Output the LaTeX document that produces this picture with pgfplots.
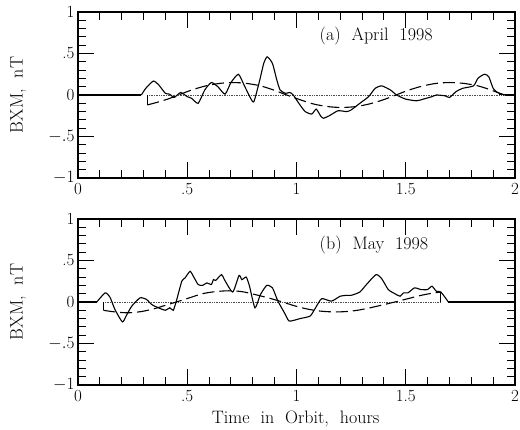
\documentclass[border=0pt]{standalone}
\usepackage{fontspec}
\usepackage{pgfplots}
\pgfplotsset{compat=1.18}

\pgfplotsset{
  orbitpanel/.style={
    scale only axis,
    width=437pt, height=166pt,
    xmin=0, xmax=2, ymin=-1, ymax=1,
    xtick={0,0.5,1,1.5,2},
    xticklabels={0,.5,1,1.5,2},
    ytick={-1,-0.5,0,0.5,1},
    yticklabels={$-1$,$-.5$,0,.5,1},
    minor x tick num=4,
    minor y tick num=4,
    tick align=inside,
    major tick length=16pt,
    minor tick length=8pt,
    every tick/.style={black, line width=1pt},
    axis line style={line width=1.2pt},
    tick label style={font=\fontsize{17}{20}\selectfont},
    xticklabel style={yshift=-2pt},
    ylabel={BXM,\ \ nT},
    every axis y label/.style={at={(axis description cs:-0.137,0.5)}, rotate=90,
      anchor=center, font=\fontsize{18}{21}\selectfont},
    clip=false,
  },
  datacurve/.style={black, line width=1.1pt, smooth, tension=0.35},
  modelcurve/.style={black, line width=1.1pt, dash pattern=on 12pt off 5pt},
  zeroline/.style={black!70, line width=0.7pt, densely dotted},
}

\begin{document}
\begin{tikzpicture}
% (a) April 1998
\begin{axis}[orbitpanel, at={(0,0)}, anchor=north west]
\addplot[zeroline] coordinates {(0.317,0) (1.95,0)};
\addplot[black, line width=1.1pt] coordinates {(0,0) (0.29,0)};
\addplot[datacurve] coordinates {
(0.29,0) (0.31,0.08) (0.345,0.168) (0.37,0.12) (0.40,0.02) (0.42,0.01)
(0.44,-0.03) (0.47,0.03) (0.50,-0.02) (0.52,-0.04) (0.55,-0.10) (0.58,0.06)
(0.61,0.15) (0.64,0.10) (0.673,0.01) (0.70,0.15) (0.734,0.25) (0.76,0.12)
(0.79,-0.04) (0.805,-0.08) (0.83,0.16) (0.85,0.38) (0.866,0.46) (0.89,0.38)
(0.91,0.18) (0.925,0.06) (0.95,0.02) (0.97,0.03) (0.985,0.0) (1.016,-0.12)
(1.04,-0.20) (1.07,-0.23) (1.09,-0.17) (1.11,-0.25) (1.123,-0.28) (1.15,-0.25)
(1.19,-0.19) (1.23,-0.20) (1.25,-0.18) (1.29,-0.10) (1.33,-0.02) (1.36,0.08)
(1.39,0.11) (1.43,0.06) (1.458,0) (1.50,-0.05) (1.55,-0.07) (1.58,-0.05)
(1.62,-0.02) (1.64,0) (1.68,-0.01) (1.70,-0.03) (1.73,0.04) (1.76,0.08)
(1.81,0.11) (1.83,0.20) (1.86,0.25) (1.88,0.22) (1.90,0.08) (1.92,0.03)
(1.954,0)
};
\addplot[black, line width=1.1pt] coordinates {(1.954,0) (2,0)};
\addplot[modelcurve] coordinates {(0.317,0) (0.317,-0.12)};
\addplot[modelcurve, smooth] coordinates {
(0.317,-0.12) (0.36,-0.09) (0.41,-0.05) (0.46,0) (0.52,0.06) (0.585,0.11)
(0.65,0.14) (0.71,0.15) (0.77,0.14) (0.835,0.11) (0.895,0.06) (0.955,0)
(1.02,-0.06) (1.08,-0.11) (1.145,-0.14) (1.205,-0.15) (1.27,-0.14) (1.33,-0.11)
(1.395,-0.06) (1.455,0) (1.515,0.06) (1.58,0.11) (1.64,0.14) (1.70,0.15)
(1.765,0.14) (1.83,0.11) (1.89,0.06) (1.95,0)
};
\node[anchor=west, font=\fontsize{18}{21}\selectfont] at (axis cs:1.09,0.71) {(a)\ \ April\ \ 1998};
\end{axis}

% (b) May 1998
\begin{axis}[orbitpanel, at={(0,-207pt)}, anchor=north west,
  xlabel={Time\ \ in\ \ Orbit,\ \ hours},
  every axis x label/.style={at={(axis description cs:0.498,-0.204)}, anchor=center,
    font=\fontsize{18}{21}\selectfont}]
\addplot[zeroline] coordinates {(0.116,0) (1.66,0)};
\addplot[black, line width=1.1pt] coordinates {(0,0) (0.086,0)};
\addplot[datacurve] coordinates {
(0.086,0) (0.124,0.11) (0.146,0.06) (0.169,-0.09) (0.203,-0.24) (0.22,-0.17)
(0.246,-0.05) (0.284,0.05) (0.314,0.03) (0.337,-0.03) (0.368,-0.07) (0.40,-0.10)
(0.42,-0.07) (0.436,-0.10) (0.45,0.01) (0.475,0.25) (0.49,0.29) (0.513,0.37)
(0.53,0.30) (0.55,0.21) (0.57,0.20) (0.59,0.23) (0.61,0.21) (0.62,0.27)
(0.63,0.26) (0.657,0.33) (0.67,0.27) (0.708,0.12) (0.737,0.32) (0.75,0.27)
(0.77,0.30) (0.785,0.19) (0.81,-0.07) (0.835,0.09) (0.864,0.20) (0.89,0.17)
(0.915,0.01) (0.947,-0.14) (0.967,-0.23) (1.016,-0.20) (1.062,-0.17) (1.085,-0.08)
(1.115,0.04) (1.16,0.01) (1.20,0.07) (1.23,0.08) (1.25,0.08) (1.29,0.12)
(1.32,0.21) (1.364,0.33) (1.39,0.28) (1.42,0.15) (1.45,0.10) (1.474,0.07)
(1.49,0.11) (1.51,0.11) (1.54,0.17) (1.57,0.15) (1.60,0.15) (1.62,0.19)
(1.64,0.13) (1.661,0.12) (1.695,0)
};
\addplot[black, line width=1.1pt] coordinates {(1.695,0) (2,0)};
\addplot[modelcurve] coordinates {(0.116,0) (0.116,-0.10)};
\addplot[modelcurve, smooth] coordinates {
(0.116,-0.10) (0.17,-0.12) (0.23,-0.13) (0.29,-0.115) (0.35,-0.08) (0.40,-0.04)
(0.45,0) (0.51,0.05) (0.57,0.10) (0.63,0.125) (0.69,0.135) (0.75,0.125)
(0.81,0.09) (0.87,0.05) (0.93,0.005) (0.99,-0.045) (1.05,-0.085) (1.11,-0.11)
(1.18,-0.12) (1.25,-0.11) (1.31,-0.085) (1.37,-0.05) (1.45,0) (1.51,0.04)
(1.57,0.08) (1.62,0.105) (1.66,0.12)
};
\addplot[black, line width=1.1pt] coordinates {(1.66,0.12) (1.66,0)};
\node[anchor=west, font=\fontsize{18}{21}\selectfont] at (axis cs:1.09,0.69) {(b)\ \ May\ \ 1998};
\end{axis}
\pgfresetboundingbox
\path (-78pt,12pt) rectangle (442pt,-418pt);
\end{tikzpicture}
\end{document}
